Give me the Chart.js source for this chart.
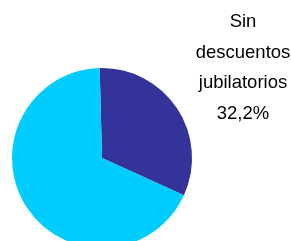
<!DOCTYPE html>
<html>
<head>
<meta charset="utf-8">
<script src="https://cdn.jsdelivr.net/npm/chart.js@4"></script>
<style>
  html, body { margin: 0; padding: 0; background: #fff; overflow: hidden; }
  #wrap { width: 291px; height: 241px; overflow: hidden; }
</style>
</head>
<body>
<div id="wrap"><canvas id="pie" width="291" height="250"></canvas></div>
<script>
// Share of workers by pension contributions
const categories = ["Sin descuentos jubilatorios", "Con descuentos jubilatorios"];
const shares = [32.2, 67.8];
const sliceColors = ["#333399", "#00CCFF"];
const calloutLines = ["Sin", "descuentos", "jubilatorios"];

// Draws the callout text for the first slice in the top-right corner
const calloutPlugin = {
  id: "callout",
  afterDraw(chart) {
    const ctx = chart.ctx;
    const lines = calloutLines.concat([shares[0].toFixed(1).replace(".", ",") + "%"]);
    ctx.save();
    ctx.fillStyle = "#000";
    ctx.font = "18.5px 'Liberation Sans', Arial, sans-serif";
    ctx.textAlign = "center";
    ctx.textBaseline = "middle";
    lines.forEach((t, i) => ctx.fillText(t, 243, 22 + i * 30.5));
    ctx.restore();
  },
};

new Chart(document.getElementById("pie"), {
  type: "pie",
  data: {
    labels: categories,
    datasets: [{
      data: shares,
      backgroundColor: sliceColors,
      borderWidth: 0,
    }],
  },
  options: {
    responsive: false,
    animation: false,
    rotation: -1.5,
    layout: { padding: { left: 12, right: 99, top: 68, bottom: 2 } },
    plugins: {
      legend: { display: false },
      tooltip: { enabled: false },
    },
  },
  plugins: [calloutPlugin],
});
</script>
</body>
</html>
